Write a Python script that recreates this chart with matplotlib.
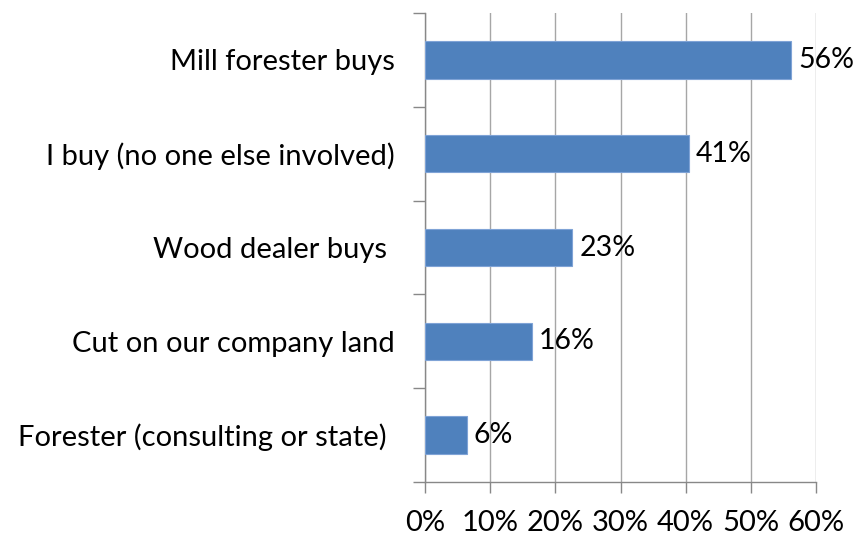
import matplotlib
matplotlib.use("Agg")
import matplotlib.pyplot as plt
from matplotlib.ticker import FuncFormatter, FixedLocator

categories = ["Mill forester buys", "I buy (no one else involved)", "Wood dealer buys ",
              "Cut on our company land", "Forester (consulting or state) "]
values = [56.2, 40.5, 22.6, 16.4, 6.4]
value_labels = ["56%", "41%", "23%", "16%", "6%"]
xticks = [0, 10, 20, 30, 40, 50, 60]

plt.rcParams['font.family'] = ['Lato', 'DejaVu Sans']

fig = plt.figure(figsize=(8.58, 5.37), dpi=100)
ax = fig.add_axes([425/858, 1-482/537, (816-425)/858, (482-13)/537])

n = len(categories)
ypos = list(range(n))[::-1]
ax.barh(ypos, values, height=0.4, color="#4F81BD", edgecolor="#7FA3D6", linewidth=0.8, zorder=3)
for y, v, lab in zip(ypos, values, value_labels):
    ax.annotate(lab, (v, y), xytext=(5, 0), textcoords="offset points",
                va="center", ha="left", fontsize=20.5, color="black", zorder=4)

ax.set_xlim(0, 60)
ax.set_ylim(-0.5, n - 0.5)
ax.set_xticks(xticks)
ax.xaxis.set_major_formatter(FuncFormatter(lambda x, p: f"{int(x)}%"))
ax.set_yticks(ypos)
ax.set_yticklabels(categories)
ax.yaxis.set_minor_locator(FixedLocator([i - 0.5 for i in range(n + 1)]))
ax.tick_params(axis='y', which='major', length=0, pad=22, labelsize=21)
ax.tick_params(axis='y', which='minor', length=9, color="#888888", width=1)
ax.tick_params(axis='x', which='major', length=8, color="#888888", width=1, labelsize=21, pad=12)
ax.grid(axis='x', color="#A6A6A6", linewidth=1, zorder=0)
for s in ['top', 'right']:
    ax.spines[s].set_visible(False)
for s in ['left', 'bottom']:
    ax.spines[s].set_color("#888888")
    ax.spines[s].set_linewidth(1)

fig.savefig("out.png", dpi=100)
